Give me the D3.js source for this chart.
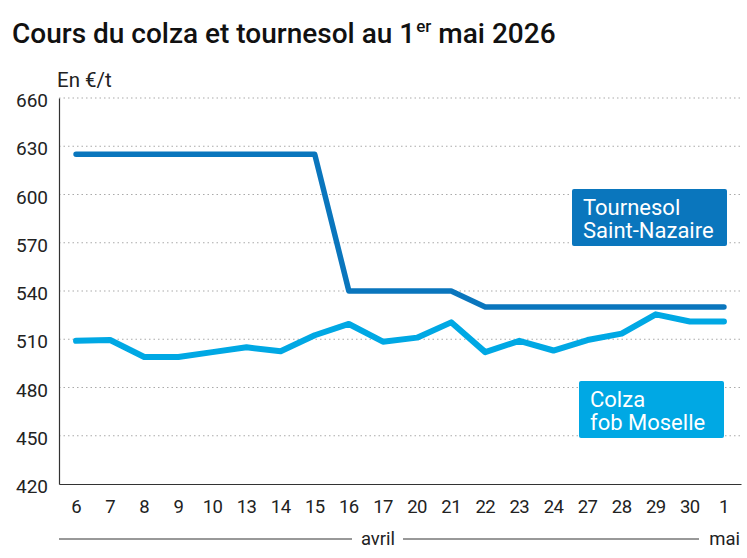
<!DOCTYPE html>
<html>
<head>
<meta charset="utf-8">
<script src="https://cdn.jsdelivr.net/npm/d3@7"></script>
<style>
  body { margin: 0; background: #fff; }
  svg { font-family: Roboto, "Noto Sans", sans-serif; }
</style>
</head>
<body>
<div id="chart"></div>
<script>
const days = ["6", "7", "8", "9", "10", "13", "14", "15", "16", "17",
  "20", "21", "22", "23", "24", "27", "28", "29", "30", "1"];
const tournesol = [625, 625, 625, 625, 625, 625, 625, 625, 540, 540,
  540, 540, 530, 530, 530, 530, 530, 530, 530, 530];
const colza = [509, 509.5, 499, 499, 502, 505, 502.5, 512.5, 519.5, 508.5,
  511, 520.5, 502, 509, 503, 509.5, 513.5, 525.5, 521, 521];
const yTicks = [420, 450, 480, 510, 540, 570, 600, 630, 660];

const width = 747, height = 558;
const plotLeft = 59, plotRight = 741, plotTop = 98, plotBottom = 484;

const svg = d3.select("#chart").append("svg")
  .attr("width", width).attr("height", height);

const x = d3.scaleBand().domain(d3.range(days.length)).range([plotLeft, plotRight]);
const cx = (i) => x(i) + x.bandwidth() / 2;
const y = d3.scaleLinear().domain([420, 660]).range([plotBottom, plotTop]);

// title
const title = svg.append("text")
  .attr("x", 12).attr("y", 43)
  .attr("font-size", 28).attr("font-weight", 500).attr("fill", "#111");
title.append("tspan").text("Cours du colza et tournesol au 1");
title.append("tspan").text("er").attr("font-size", 17).attr("dy", -11).attr("dx", 1);
title.append("tspan").text(" mai 2026").attr("dy", 11);

svg.append("text")
  .attr("x", 57).attr("y", 87)
  .attr("font-size", 20.5).attr("fill", "#222")
  .text("En €/t");

// grid
svg.append("g")
  .selectAll("line")
  .data(yTicks.slice(1))
  .join("line")
  .attr("x1", plotLeft).attr("x2", plotRight)
  .attr("y1", (d) => y(d)).attr("y2", (d) => y(d))
  .attr("stroke", "#aaa").attr("stroke-width", 1.2)
  .attr("stroke-dasharray", "1.5,3");

// y axis
const yAxis = d3.axisLeft(y).tickValues(yTicks).tickSize(0).tickPadding(11);
const gy = svg.append("g").attr("transform", `translate(${plotLeft},0)`).call(yAxis);
gy.select(".domain").attr("stroke", "#333").attr("stroke-width", 1.2);
gy.selectAll("text").attr("font-size", 19).attr("fill", "#222")
  .attr("font-family", "Roboto").attr("dy", "0.45em");

// x axis
const xAxis = d3.axisBottom(x).tickFormat((i) => days[i]).tickSize(0).tickPadding(16);
const gx = svg.append("g").attr("transform", `translate(0,${plotBottom})`).call(xAxis);
gx.select(".domain").attr("stroke", "#333").attr("stroke-width", 1.2);
gx.selectAll("text").attr("font-size", 18.5).attr("fill", "#222")
  .attr("font-family", "Roboto").attr("letter-spacing", -0.6);

// month labels
const monthY = 539;
svg.append("line").attr("x1", plotLeft).attr("x2", 352)
  .attr("y1", monthY).attr("y2", monthY).attr("stroke", "#333");
svg.append("line").attr("x1", 403).attr("x2", 699)
  .attr("y1", monthY).attr("y2", monthY).attr("stroke", "#333");
svg.append("text").attr("x", 378).attr("y", monthY + 6)
  .attr("text-anchor", "middle").attr("font-size", 18.5).attr("fill", "#222")
  .text("avril");
svg.append("text").attr("x", 740).attr("y", monthY + 6)
  .attr("text-anchor", "end").attr("font-size", 18.5).attr("fill", "#222")
  .text("mai");

// lines
const line = d3.line().x((d, i) => cx(i)).y((d) => y(d));
svg.append("path").datum(colza)
  .attr("d", line).attr("fill", "none")
  .attr("stroke", "#00a8e4").attr("stroke-width", 6)
  .attr("stroke-linecap", "round").attr("stroke-linejoin", "round");
svg.append("path").datum(tournesol)
  .attr("d", line).attr("fill", "none")
  .attr("stroke", "#0a76bd").attr("stroke-width", 5.5)
  .attr("stroke-linecap", "round").attr("stroke-linejoin", "round");

// labels
function label(x0, y0, w, h, color, lines) {
  const g = svg.append("g");
  g.append("rect").attr("x", x0).attr("y", y0).attr("width", w).attr("height", h)
    .attr("rx", 2).attr("fill", color);
  g.append("text")
    .attr("x", x0 + 11).attr("y", y0 + 26)
    .attr("font-size", 22).attr("fill", "#fff")
    .selectAll("tspan").data(lines).join("tspan")
    .attr("x", x0 + 11).attr("dy", (d, i) => (i ? 23 : 0))
    .text((d) => d);
}
label(572, 189, 155, 57, "#0a76bd", ["Tournesol", "Saint-Nazaire"]);
label(579, 381, 145, 57, "#00a8e4", ["Colza", "fob Moselle"]);
</script>
</body>
</html>
